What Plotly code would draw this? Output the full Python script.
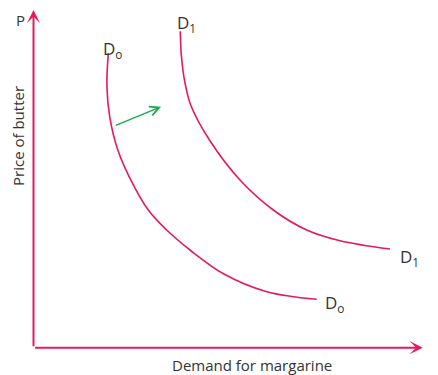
import plotly.graph_objects as go

# Coordinates: x = quantity (demand for margarine), y = price of butter (arbitrary units)
d0_x = [74.8, 73.4, 76.2, 84.3, 96.5, 114.8, 133.2, 156.5, 190.0, 233.2, 283.2]
d0_y = [294.4, 262.0, 231.0, 197.7, 169.4, 137.7, 117.7, 97.7, 73.9, 56.0, 48.4]
d1_x = [146.8, 147.8, 151.2, 157.5, 176.8, 206.5, 239.8, 273.2, 306.5, 356.5]
d1_y = [316.4, 293.0, 266.4, 242.0, 206.4, 167.7, 137.7, 117.7, 107.0, 98.7]

shift_from = (80.8, 221.7)
shift_to = (127.5, 241.0)

x_axis_end = 389.2
y_axis_end = 337.7

PINK = "#E8185F"
GREEN = "#1AAA4A"
TXT = "#333333"
FONT = "Open Sans"

fig = go.Figure()
for xs, ys in ((d0_x, d0_y), (d1_x, d1_y)):
    fig.add_trace(go.Scatter(x=xs, y=ys, mode="lines",
                             line=dict(color=PINK, width=1.6, shape="spline", smoothing=1.0),
                             hoverinfo="skip"))

ann = []
# axes arrows
ann.append(dict(x=0, y=y_axis_end, ax=0, ay=0, xref="x", yref="y", axref="x", ayref="y",
                showarrow=True, arrowhead=3, arrowsize=1.1, arrowwidth=2, arrowcolor=PINK, text=""))
ann.append(dict(x=x_axis_end, y=0, ax=0, ay=0, xref="x", yref="y", axref="x", ayref="y",
                showarrow=True, arrowhead=3, arrowsize=1.1, arrowwidth=2, arrowcolor=PINK, text=""))
# shift arrow
ann.append(dict(x=shift_to[0], y=shift_to[1], ax=shift_from[0], ay=shift_from[1], xref="x", yref="y", axref="x", ayref="y",
                showarrow=True, arrowhead=5, arrowsize=1.3, arrowwidth=1.4, arrowcolor=GREEN, text=""))

def label(x, y, t, size=17, **kw):
    ann.append(dict(x=x, y=y, xref="x", yref="y", text=t, showarrow=False,
                    font=dict(family=FONT, size=size, color=TXT), **kw))

label(67.5, 298.5, "D<sub>o</sub>", xanchor="left", yanchor="middle")
label(141.5, 324.5, "D<sub>1</sub>", xanchor="left", yanchor="middle")
label(364.5, 90.5, "D<sub>1</sub>", xanchor="left", yanchor="middle")
label(289.5, 44.5, "D<sub>o</sub>", xanchor="left", yanchor="middle")
label(-13.5, 327.7, "P", size=15)
label(395.5, 0, "Q", size=15, xanchor="left")
label(-15.5, 211.7, "Price of butter", size=15, textangle=-90)
label(218, -17.3, "Demand for margarine", size=15)

# the page body adds an 8px margin, so the figure is 8px smaller than the window
fig.update_layout(
    annotations=ann,
    width=430, height=367,
    margin=dict(l=0, r=0, t=0, b=0),
    paper_bgcolor="white", plot_bgcolor="white",
    showlegend=False,
    xaxis=dict(range=[-25.5, 404.5], visible=False, fixedrange=True),
    yaxis=dict(range=[-27.3, 339.7], visible=False, fixedrange=True),
)
fig.write_html("out.html")
